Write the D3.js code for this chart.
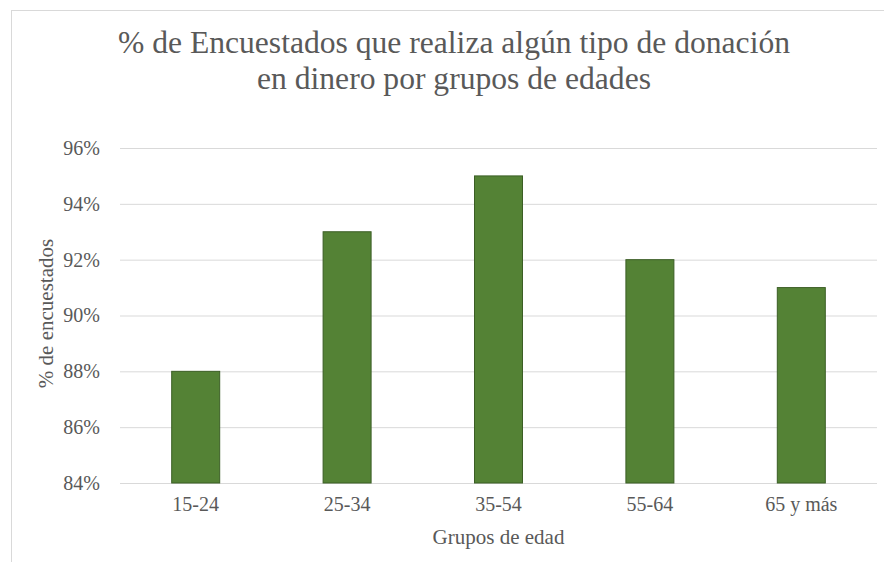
<!DOCTYPE html>
<html>
<head>
<meta charset="utf-8">
<script src="https://cdn.jsdelivr.net/npm/d3@7"></script>
<style>
  html, body { margin: 0; padding: 0; background: #fff; }
  svg { display: block; }
  text { font-family: "Liberation Serif", "Times New Roman", serif; fill: #595959; }
</style>
</head>
<body>
<svg id="chart" width="884" height="562"></svg>
<script>
const categories = ["15-24", "25-34", "35-54", "55-64", "65 y más"];
const values = [0.88, 0.93, 0.95, 0.92, 0.91];
const yTicks = [0.84, 0.86, 0.88, 0.90, 0.92, 0.94, 0.96];
const titleLines = ["% de Encuestados que realiza algún tipo de donación", "en dinero por grupos de edades"];
const xTitle = "Grupos de edad";
const yTitle = "% de encuestados";

const serif = "'Liberation Serif', 'Times New Roman', serif";
const svg = d3.select("#chart");

// chart frame
svg.append("rect")
  .attr("x", 11.5).attr("y", 10.5)
  .attr("width", 900).attr("height", 600)
  .attr("fill", "none").attr("stroke", "#d9d9d9").attr("stroke-width", 1);

const plot = { left: 120, right: 877, top: 148, bottom: 483 };

const x = d3.scaleBand().domain(categories).range([plot.left, plot.right]).paddingInner(0.683).paddingOuter(0.3415);
const y = d3.scaleLinear().domain([0.84, 0.96]).range([plot.bottom, plot.top]);

// gridlines
const yAxis = d3.axisLeft(y).tickValues(yTicks).tickFormat(d3.format(".0%"))
  .tickSize(-(plot.right - plot.left)).tickPadding(20);
const gy = svg.append("g").attr("transform", `translate(${plot.left},0)`).call(yAxis);
gy.select(".domain").remove();
gy.selectAll(".tick line").attr("stroke", "#d9d9d9").attr("stroke-width", 1);
gy.selectAll(".tick text").attr("font-size", 20).attr("fill", "#595959").style("font-family", serif);

// bars
svg.append("g").selectAll("rect").data(values).join("rect")
  .attr("x", (d, i) => x(categories[i]))
  .attr("y", d => y(d))
  .attr("width", x.bandwidth())
  .attr("height", d => y(0.84) - y(d))
  .attr("fill", "#548235")
  .attr("stroke", "#3b5e25")
  .attr("stroke-width", 1);

// x axis
const xAxis = d3.axisBottom(x).tickSize(0).tickPadding(14);
const gx = svg.append("g").attr("transform", `translate(0,${plot.bottom})`).call(xAxis);
gx.select(".domain").remove();
gx.selectAll(".tick text").attr("font-size", 20).attr("fill", "#595959").style("font-family", serif);

// axis titles
svg.append("text")
  .attr("x", (plot.left + plot.right) / 2).attr("y", 544)
  .attr("text-anchor", "middle").attr("font-size", 21)
  .style("font-family", serif).attr("fill", "#595959")
  .text(xTitle);

svg.append("text")
  .attr("transform", `translate(53,${(plot.top + plot.bottom) / 2 - 2}) rotate(-90)`)
  .attr("text-anchor", "middle").attr("font-size", 21)
  .style("font-family", serif).attr("fill", "#595959")
  .text(yTitle);

// title
svg.append("g").selectAll("text").data(titleLines).join("text")
  .attr("x", 454).attr("y", (d, i) => 53 + i * 36)
  .attr("text-anchor", "middle").attr("font-size", 31.6)
  .style("font-family", serif).attr("fill", "#595959")
  .text(d => d);
</script>
</body>
</html>
